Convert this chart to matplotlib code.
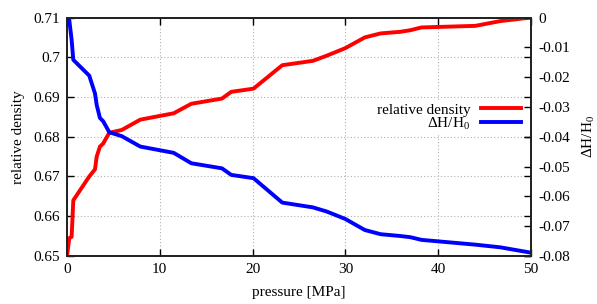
import numpy as np
import matplotlib
matplotlib.use("Agg")
import matplotlib.pyplot as plt
from matplotlib.ticker import FuncFormatter

plt.rcParams["font.family"] = ["Liberation Serif", "DejaVu Serif"]
plt.rcParams["mathtext.fontset"] = "custom"
plt.rcParams["mathtext.rm"] = "Liberation Serif"
plt.rcParams["axes.unicode_minus"] = False

# pressure [MPa]
pressure = [0.0, 0.25, 0.5, 0.68, 2.4, 3.02, 3.2, 3.55, 3.9, 4.56, 5.9, 7.9,
            11.5, 13.4, 16.7, 17.7, 20.1, 23.2, 26.5, 28.0, 30.0, 32.1, 33.8,
            35.9, 37.0, 38.2, 44.0, 46.7, 50.0]
rel_density = [0.650, 0.6545, 0.6548, 0.664, 0.6700, 0.6718, 0.6750, 0.6775,
               0.6783, 0.681, 0.6817, 0.6843, 0.6859, 0.6883, 0.6896, 0.6913,
               0.6921, 0.6980, 0.6991, 0.7004, 0.7023, 0.7050, 0.7060, 0.7064,
               0.7068, 0.7075, 0.7079, 0.7091, 0.7100]
dH_H0 = [0.0, -0.0009, -0.0075, -0.0142, -0.0195, -0.0255, -0.0293, -0.0337,
         -0.0348, -0.0385, -0.0398, -0.0433, -0.0454, -0.0489, -0.0506,
         -0.0528, -0.0539, -0.0621, -0.0637, -0.0651, -0.0676, -0.0713,
         -0.0727, -0.0733, -0.0737, -0.0746, -0.0762, -0.0771, -0.0789]

fig = plt.figure(figsize=(5.97, 3.04), dpi=100)
ax = fig.add_axes([0.1122, 0.158, 0.7772, 0.7844])
ax2 = ax.twinx()

l1, = ax.plot(pressure, rel_density, color="#ff0000", lw=2.8,
              label="relative density", solid_joinstyle="round")
l2, = ax2.plot(pressure, dH_H0, color="#0000ff", lw=2.8,
               label=r"$\Delta$H/H$_0$", solid_joinstyle="round")

ax.set_xlim(0, 50)
ax.set_ylim(0.65, 0.71)
ax2.set_ylim(-0.08, 0)
ax.set_xticks([0, 10, 20, 30, 40, 50])
ax.set_yticks(np.arange(0.65, 0.7101, 0.01))
ax2.set_yticks(np.arange(-0.08, 0.0001, 0.01))


def tick_fmt(v, p):
    v = round(v, 3)
    if v == 0:
        return "0"
    return "%g" % v


fmt = FuncFormatter(tick_fmt)
ax.xaxis.set_major_formatter(fmt)
ax.yaxis.set_major_formatter(fmt)
ax2.yaxis.set_major_formatter(fmt)

ax.grid(True, color="#b0b0b0", linestyle=(0, (1, 2)), lw=0.8)
ax.tick_params(direction="in", length=5, width=1, top=True, right=True,
               labelsize=11, pad=5)
ax2.tick_params(direction="in", length=5, width=1, labelsize=11, pad=5)

for a in (ax, ax2):
    for s in a.spines.values():
        s.set_linewidth(1.3)
        s.set_color("#222222")

ax.set_xlabel("pressure [MPa]", fontsize=11, labelpad=7)
ax.set_ylabel("relative density", fontsize=11, labelpad=6)
ax2.set_ylabel(r"$\Delta$H/H$_0$", fontsize=11, labelpad=8)

leg = ax2.legend(handles=[l1, l2], loc="upper right", markerfirst=False,
                 bbox_to_anchor=(0.985, 0.655), fontsize=11, frameon=True,
                 handlelength=2.6, handletextpad=0.7, labelspacing=-0.1,
                 borderpad=0.2, borderaxespad=0)
leg.get_frame().set_edgecolor("none")
leg.get_frame().set_facecolor("white")
leg.get_frame().set_alpha(1)
for t in leg.get_texts():
    t.set_ha("right")

fig.savefig("out.png", dpi=100)
